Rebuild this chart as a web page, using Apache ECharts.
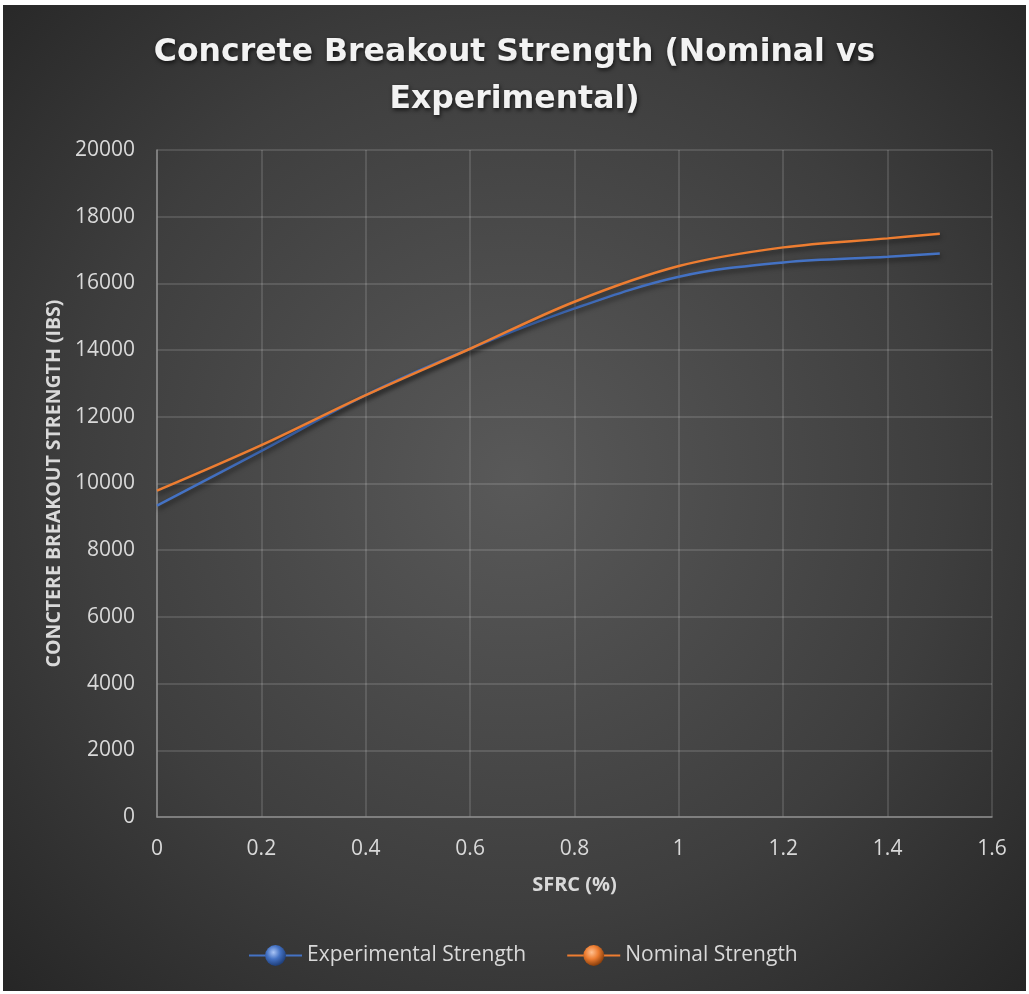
<!DOCTYPE html>
<html><head><meta charset="utf-8">
<script src="https://cdn.jsdelivr.net/npm/echarts@6/dist/echarts.min.js"></script>
<style>
html,body{margin:0;padding:0;background:#fff;width:1029px;height:994px;overflow:hidden;}
#bg{position:absolute;left:3px;top:5px;width:1023px;height:986px;background:radial-gradient(ellipse at 50% 48%, #595959 0%, #3e3e3e 60%, #262626 100%);}
#chart{position:absolute;left:0;top:0;width:1029px;height:994px;}
</style></head>
<body><div id="bg"></div><div id="chart"></div>
<script>
const titleText = 'Concrete Breakout Strength (Nominal vs\nExperimental)';
const xAxisName = 'SFRC (%)';
const yAxisName = 'CONCTERE BREAKOUT STRENGTH (IBS)';
const sfrc = [0, 0.2, 0.4, 0.6, 0.8, 1.0, 1.2, 1.4, 1.5];
const experimental = [9335, 10980, 12650, 14040, 15250, 16200, 16630, 16800, 16900];
const nominal = [9785, 11150, 12650, 14040, 15450, 16520, 17080, 17350, 17490];
const seriesNames = ['Experimental Strength', 'Nominal Strength'];
const colors = ['#4472C4', '#ED7D31'];
const lightColors = ['#a9c4f5', '#ffc08f'];
const darkColors = ['#1f3f7a', '#8a3f0c'];

const chart = echarts.init(document.getElementById('chart'), null, {renderer:'canvas'});
const fontFam = '"Open Sans", sans-serif';
function mk(i, vals){
  return {
    name: seriesNames[i], type:'line', smooth:0.35,
    data: sfrc.map((x,k)=>[x, vals[k]]),
    showSymbol:false, symbol:'circle', symbolSize:16,
    lineStyle:{color:colors[i], width:2.5, shadowColor:'rgba(0,0,0,0.55)', shadowBlur:5, shadowOffsetY:3, shadowOffsetX:1},
    itemStyle:{color:{type:'radial', x:0.4, y:0.35, r:0.65, colorStops:[{offset:0,color:lightColors[i]},{offset:0.5,color:colors[i]},{offset:1,color:darkColors[i]}]}},
    emphasis:{disabled:true}
  };
}
chart.setOption({
  backgroundColor:'transparent',
  animation:false,
  title:{
    text:titleText, left:'center', top:24,
    textStyle:{fontFamily:'"DejaVu Sans", sans-serif', fontWeight:'bold', fontSize:31.5, lineHeight:47, color:'#f2f2f2',
      textShadowColor:'rgba(0,0,0,0.7)', textShadowBlur:4, textShadowOffsetX:1, textShadowOffsetY:2}
  },
  grid:{left:157, right:37, top:150, bottom:177, containLabel:false},
  legend:{
    bottom:23, left:243, itemWidth:53, itemHeight:26, itemGap:40,
    textStyle:{color:'#d9d9d9', fontSize:21, fontFamily:fontFam},
    data:seriesNames
  },
  xAxis:{
    type:'value', min:0, max:1.6, interval:0.2,
    name:xAxisName, nameLocation:'middle', nameGap:58,
    nameTextStyle:{color:'#d9d9d9', fontSize:20, fontWeight:'bold', fontFamily:fontFam},
    axisLine:{show:true, lineStyle:{color:'#8c8c8c', width:1.5}},
    axisTick:{show:false},
    axisLabel:{color:'#d9d9d9', fontSize:21, fontFamily:fontFam, margin:22, formatter:v=>String(Math.round(v*10)/10)},
    splitLine:{show:true, lineStyle:{color:'rgba(255,255,255,0.17)', width:1.5}}
  },
  yAxis:{
    type:'value', min:0, max:20000, interval:2000,
    name:yAxisName, nameLocation:'middle', nameGap:93,
    nameTextStyle:{color:'#d9d9d9', fontSize:19.5, fontWeight:'bold', fontFamily:fontFam},
    axisLine:{show:true, lineStyle:{color:'#8c8c8c', width:1.5}},
    axisTick:{show:false},
    axisLabel:{color:'#d9d9d9', fontSize:21, fontFamily:fontFam, margin:22, formatter:v=>String(v)},
    splitLine:{show:true, lineStyle:{color:'rgba(255,255,255,0.17)', width:1.5}}
  },
  series:[mk(0, experimental), mk(1, nominal)]
});
</script></body></html>
